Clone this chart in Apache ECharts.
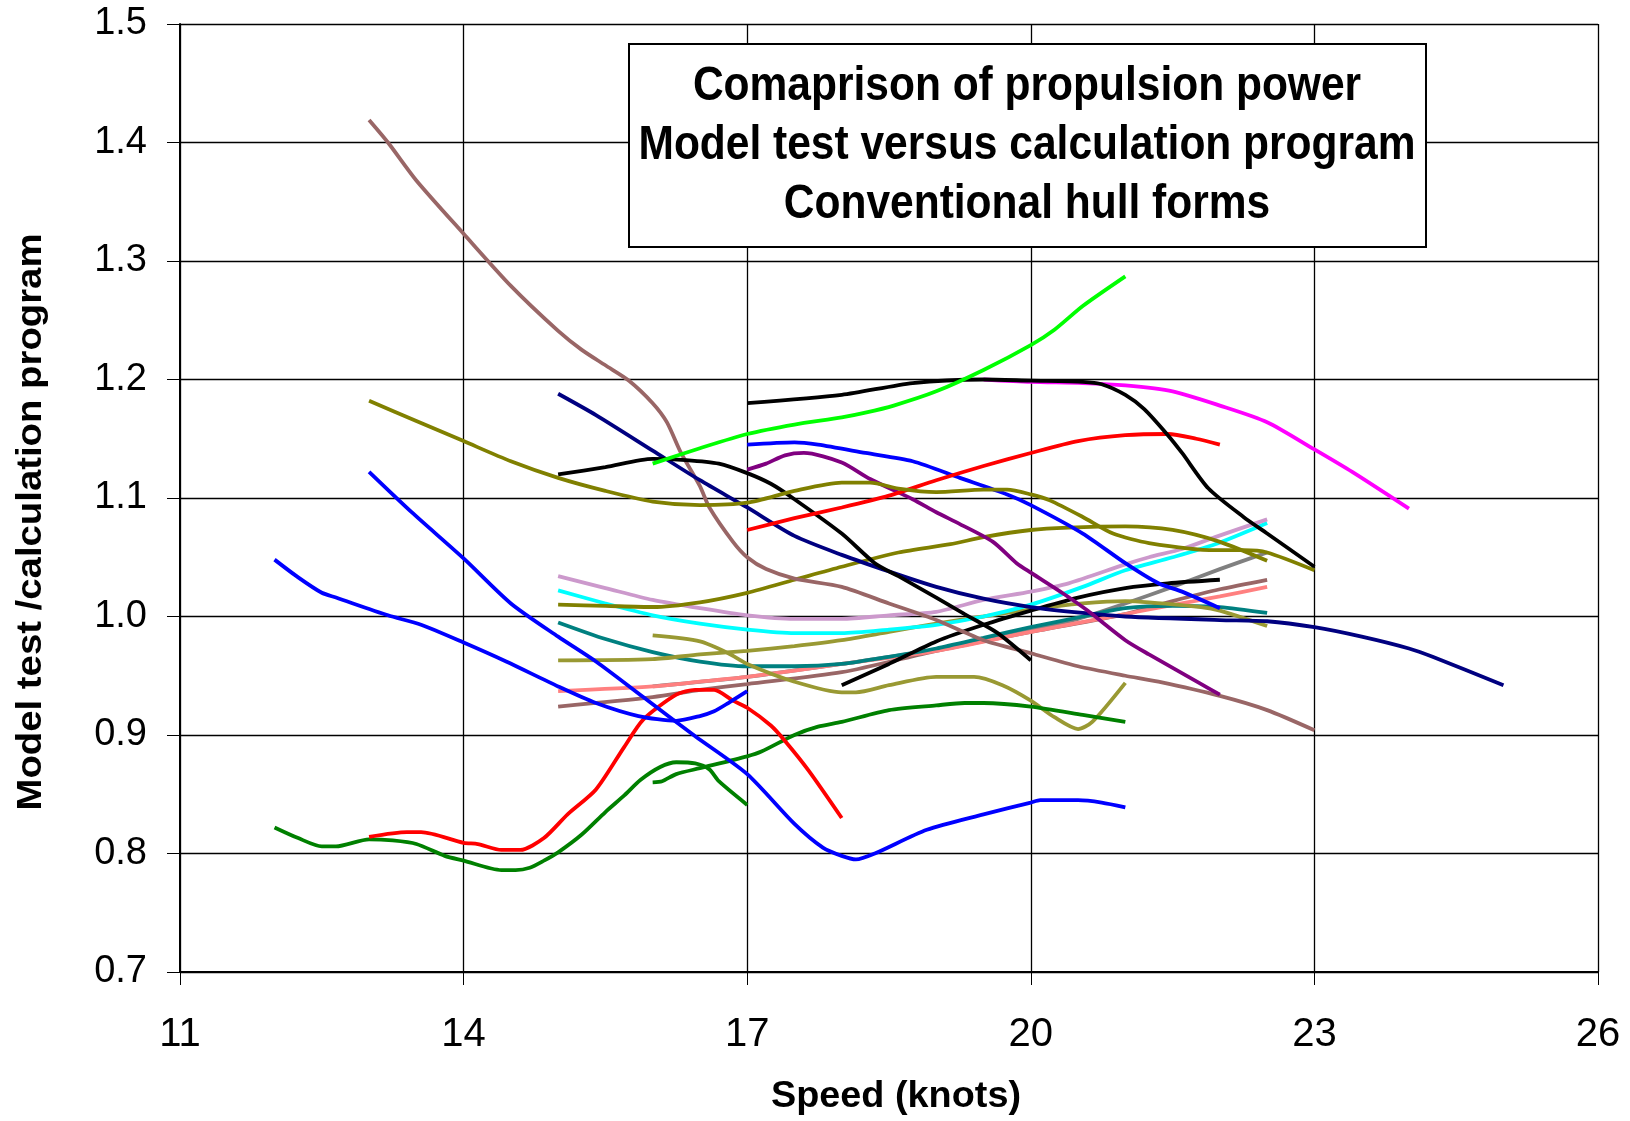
<!DOCTYPE html>
<html>
<head>
<meta charset="utf-8">
<script src="https://cdn.jsdelivr.net/npm/echarts@6/dist/echarts.min.js"></script>
<style>
html,body{margin:0;padding:0;background:#fff;}
#chart{width:1630px;height:1121px;}
</style>
</head>
<body>
<div id="chart"></div>
<script>
// ---- Data (speed in knots, ratio model test / calculation) ----
const xTicks = [11, 14, 17, 20, 23, 26];
const yTicks = [0.7, 0.8, 0.9, 1.0, 1.1, 1.2, 1.3, 1.4, 1.5];

const brownHigh = [[13,1.419],[13.2,1.40],[13.5,1.368],[14,1.323],[14.5,1.279],[15,1.241],[15.25,1.225],[15.5,1.212],[15.75,1.199],[16,1.18],[16.15,1.164],[16.3,1.138],[16.5,1.11],[16.6,1.092],[16.85,1.063],[17,1.05],[17.2,1.04],[17.5,1.032],[18,1.025],[18.5,1.011],[19,0.997],[19.5,0.98],[20,0.969],[20.5,0.958],[21,0.95],[21.35,0.945],[22,0.933],[22.5,0.921],[23,0.904]];
const oliveHigh = [[13,1.182],[13.5,1.165],[14,1.148],[14.5,1.131],[15,1.117],[15.5,1.106],[16,1.097],[16.5,1.094],[17,1.096],[17.5,1.106],[18,1.113],[18.3,1.113],[18.6,1.108],[19,1.105],[19.5,1.107],[19.75,1.107],[20,1.103],[20.2,1.098],[20.55,1.084],[20.87,1.07],[21.25,1.062],[21.95,1.056],[22.25,1.056],[22.5,1.054],[23,1.039]];
const oliveRising = [[15,1.01],[15.5,1.009],[16,1.008],[16.5,1.012],[17,1.02],[17.5,1.031],[18,1.042],[18.6,1.054],[19.15,1.061],[19.5,1.067],[20,1.073],[20.4,1.075],[21,1.076],[21.5,1.073],[22,1.063],[22.5,1.047]];
const navyLong = [[15,1.188],[15.4,1.17],[16,1.14],[16.5,1.115],[17,1.092],[17.5,1.068],[18,1.052],[18.5,1.038],[19,1.025],[19.5,1.015],[20,1.008],[20.55,1.003],[21,1.0],[22,0.997],[22.5,0.996],[23,0.991],[23.5,0.983],[24,0.973],[24.25,0.966],[25,0.942]];
const blackHump = [[15,1.12],[15.5,1.126],[16,1.133],[16.35,1.132],[16.7,1.129],[17,1.121],[17.25,1.112],[17.5,1.099],[18,1.07],[18.35,1.045],[18.6,1.034],[19,1.016],[19.3,1.002],[19.65,0.986],[20,0.963]];
const blackTop = [[17,1.18],[18,1.187],[18.75,1.197],[19.5,1.2],[20,1.199],[20.55,1.198],[20.75,1.196],[21,1.187],[21.2,1.175],[21.45,1.153],[21.6,1.138],[21.88,1.108],[22.25,1.084],[22.5,1.07],[23,1.042]];
const blackRising = [[18,0.942],[18.5,0.96],[19,0.979],[19.5,0.993],[20,1.005],[20.5,1.016],[21,1.024],[21.45,1.028],[22,1.031]];
const magentaLine = [[19.5,1.2],[20,1.198],[20.55,1.197],[21,1.195],[21.5,1.19],[22,1.178],[22.5,1.164],[23,1.141],[23.4,1.122],[24,1.091]];
const greenBright = [[16,1.129],[16.5,1.142],[17,1.154],[17.5,1.162],[18,1.168],[18.25,1.172],[18.55,1.178],[19,1.19],[19.5,1.208],[20,1.229],[20.25,1.242],[20.55,1.262],[21,1.287]];
const redHigh = [[17,1.073],[17.5,1.083],[18,1.092],[18.5,1.102],[19,1.115],[19.5,1.127],[20,1.138],[20.5,1.148],[21,1.153],[21.45,1.154],[21.75,1.15],[22,1.145]];
const blueHigh = [[17,1.145],[17.5,1.147],[17.75,1.145],[18.25,1.138],[18.75,1.131],[19.25,1.117],[19.75,1.103],[20,1.094],[20.55,1.07],[21,1.045],[21.35,1.028],[21.6,1.021],[22,1.007]];
const purpleLine = [[17,1.124],[17.2,1.129],[17.4,1.136],[17.6,1.138],[18,1.13],[18.3,1.116],[18.75,1.099],[19,1.088],[19.25,1.078],[19.6,1.063],[19.85,1.045],[20,1.037],[20.35,1.019],[20.6,1.005],[21,0.98],[21.25,0.968],[21.78,0.944],[22,0.934]];
const lilacLine = [[15,1.034],[15.5,1.024],[16,1.014],[16.5,1.007],[17,1.001],[17.5,0.998],[18,0.998],[18.5,1.001],[19,1.004],[19.5,1.014],[20,1.021],[20.4,1.028],[21,1.044],[21.25,1.05],[21.6,1.057],[21.95,1.067],[22.5,1.082]];
const cyanLine = [[15,1.022],[15.5,1.011],[16,1.001],[16.5,0.994],[17,0.989],[17.5,0.986],[18,0.986],[18.5,0.989],[19,0.993],[19.5,1.0],[20,1.01],[20.55,1.025],[21,1.039],[21.5,1.05],[21.95,1.061],[22.5,1.079]];
const tealLine = [[15,0.995],[15.5,0.981],[16,0.97],[16.5,0.962],[17,0.958],[17.5,0.958],[18,0.96],[18.5,0.966],[19,0.973],[19.5,0.982],[20,0.991],[20.55,1.0],[21,1.007],[21.5,1.009],[22,1.008],[22.5,1.003]];
const khakiRising = [[15,0.963],[16,0.964],[16.5,0.968],[17,0.971],[17.5,0.975],[18,0.98],[18.5,0.987],[19,0.994],[19.5,1.0],[20,1.006],[20.55,1.011],[21,1.013],[21.25,1.012],[21.8,1.008],[22,1.005],[22.5,0.992]];
const khakiDip = [[16,0.984],[16.5,0.979],[16.8,0.969],[17,0.96],[17.5,0.945],[18,0.936],[18.15,0.936],[18.5,0.942],[19,0.949],[19.4,0.949],[19.7,0.942],[20,0.929],[20.25,0.915],[20.5,0.905],[20.65,0.911],[21,0.944]];
const salmonLine = [[15,0.937],[16,0.941],[16.5,0.945],[17,0.949],[18,0.96],[19,0.971],[20,0.987],[21,1.002],[21.25,1.006],[22,1.017],[22.5,1.025]];
const grayLine = [[16,0.941],[17,0.949],[18,0.96],[19,0.972],[20,0.989],[20.5,0.998],[21,1.011],[21.5,1.025],[22,1.04],[22.5,1.054]];
const brownLow = [[15,0.924],[16,0.932],[16.5,0.938],[17,0.943],[18,0.953],[19,0.971],[20,0.987],[21,1.002],[21.5,1.013],[22,1.023],[22.5,1.031]];
const blueDeep = [[13,1.122],[13.45,1.088],[14,1.049],[14.5,1.011],[15,0.983],[15.4,0.962],[15.9,0.932],[16.45,0.899],[17,0.867],[17.5,0.825],[17.8,0.805],[18,0.798],[18.15,0.795],[18.35,0.8],[18.9,0.82],[19.5,0.833],[20,0.843],[20.1,0.845],[20.5,0.845],[20.75,0.843],[21,0.839]];
const blueLow = [[12,1.048],[12.25,1.033],[12.5,1.02],[12.65,1.016],[13.2,1.001],[13.55,0.993],[14,0.978],[14.45,0.962],[15,0.941],[15.4,0.927],[15.85,0.916],[16.25,0.912],[16.5,0.916],[16.65,0.92],[16.8,0.927],[17,0.937]];
const redLow = [[13,0.814],[13.4,0.818],[13.55,0.818],[14,0.809],[14.15,0.808],[14.4,0.803],[14.6,0.803],[14.85,0.813],[15.1,0.833],[15.4,0.854],[15.7,0.89],[15.9,0.913],[16.25,0.934],[16.45,0.938],[16.65,0.938],[16.85,0.929],[17,0.923],[17.25,0.908],[17.4,0.895],[17.65,0.87],[18,0.83]];
const greenDarkA = [[12,0.822],[12.25,0.813],[12.5,0.806],[12.65,0.806],[13,0.812],[13.25,0.811],[13.5,0.808],[13.8,0.798],[14,0.794],[14.4,0.786],[14.55,0.786],[14.7,0.788],[14.85,0.794],[15,0.801],[15.25,0.816],[15.5,0.835],[15.7,0.849],[15.87,0.862],[16.08,0.873],[16.25,0.877],[16.45,0.876],[16.6,0.871],[16.7,0.861],[17,0.841]];
const greenDarkB = [[16,0.86],[16.1,0.861],[16.25,0.867],[16.5,0.872],[17,0.882],[17.15,0.886],[17.5,0.9],[17.75,0.907],[18,0.911],[18.5,0.921],[19,0.925],[19.3,0.927],[19.5,0.927],[20,0.924],[20.55,0.917],[21,0.911]];

const titleLines = ['Comaprison of propulsion power', 'Model test versus calculation program', 'Conventional hull forms'];
const xAxisTitle = 'Speed (knots)';
const yAxisTitle = 'Model test /calculation program';

const seriesDefs = [
  ['brownLow', brownLow, '#996666'],
  ['grayLine', grayLine, '#808080'],
  ['salmonLine', salmonLine, '#FF8080'],
  ['tealLine', tealLine, '#008080'],
  ['khakiRising', khakiRising, '#999933'],
  ['blackRising', blackRising, '#000000'],
  ['khakiDip', khakiDip, '#999933'],
  ['cyanLine', cyanLine, '#00FFFF'],
  ['lilacLine', lilacLine, '#CC99CC'],
  ['oliveRising', oliveRising, '#808000'],
  ['greenDarkB', greenDarkB, '#008000'],
  ['greenDarkA', greenDarkA, '#008000'],
  ['redLow', redLow, '#FF0000'],
  ['blueLow', blueLow, '#0000FF'],
  ['blueDeep', blueDeep, '#0000FF'],
  ['brownHigh', brownHigh, '#996666'],
  ['navyLong', navyLong, '#000080'],
  ['blackHump', blackHump, '#000000'],
  ['purpleLine', purpleLine, '#800080'],
  ['blueHigh', blueHigh, '#0000FF'],
  ['redHigh', redHigh, '#FF0000'],
  ['oliveHigh', oliveHigh, '#808000'],
  ['magentaLine', magentaLine, '#FF00FF'],
  ['blackTop', blackTop, '#000000'],
  ['greenBright', greenBright, '#00FF00']
];

const sans = "'Liberation Sans', Arial, sans-serif";
const measureCtx = document.createElement('canvas').getContext('2d');
function fitScale(text, font, target) {
  measureCtx.font = font;
  return target / measureCtx.measureText(text).width;
}
const titleFont = "bold 48px " + sans;
const titleScale = fitScale(titleLines[1], titleFont, 777);
const xNameFont = "bold 37px " + sans;
const xNameScale = fitScale(xAxisTitle, xNameFont, 250);
const yNameFont = "bold 35px " + sans;
const yNameScale = fitScale(yAxisTitle, yNameFont, 577);

const chart = echarts.init(document.getElementById('chart'), null, {renderer: 'canvas'});
chart.setOption({
  animation: false,
  backgroundColor: '#ffffff',
  grid: {left: 180, right: 32, top: 24, bottom: 149, containLabel: false},
  xAxis: {
    type: 'value', min: xTicks[0], max: xTicks[xTicks.length - 1], interval: 3,
    axisLine: {show: true, lineStyle: {color: '#000', width: 2}},
    axisTick: {show: true, length: 13, lineStyle: {color: '#000', width: 1}},
    axisLabel: {margin: 43, fontFamily: sans, fontSize: 40, color: '#000'},
    splitLine: {show: true, lineStyle: {color: '#000', width: 1.3}}
  },
  yAxis: {
    type: 'value', min: yTicks[0], max: yTicks[yTicks.length - 1], interval: 0.1,
    axisLine: {show: true, lineStyle: {color: '#000', width: 2}},
    axisTick: {show: true, length: 13, lineStyle: {color: '#000', width: 1}},
    axisLabel: {margin: 33, fontFamily: sans, fontSize: 38, color: '#000',
      formatter: v => v.toFixed(1)},
    splitLine: {show: true, lineStyle: {color: '#000', width: 1.3}}
  },
  graphic: [
    {type: 'rect', left: 628, top: 43, z: 100,
     shape: {width: 797, height: 203},
     style: {fill: '#fff', stroke: '#000', lineWidth: 2}},
    {type: 'text', x: 1027, y: 87, scaleX: titleScale, z: 101,
     style: {text: titleLines[0], fill: '#000', font: titleFont, align: 'center', verticalAlign: 'middle'}},
    {type: 'text', x: 1027, y: 146, scaleX: titleScale, z: 101,
     style: {text: titleLines[1], fill: '#000', font: titleFont, align: 'center', verticalAlign: 'middle'}},
    {type: 'text', x: 1027, y: 205, scaleX: titleScale, z: 101,
     style: {text: titleLines[2], fill: '#000', font: titleFont, align: 'center', verticalAlign: 'middle'}},
    {type: 'text', x: 896, y: 1097, scaleX: xNameScale, z: 101,
     style: {text: xAxisTitle, fill: '#000', font: xNameFont, align: 'center', verticalAlign: 'middle'}},
    {type: 'text', x: 31, y: 522, scaleX: yNameScale, rotation: Math.PI / 2, z: 101,
     style: {text: yAxisTitle, fill: '#000', font: yNameFont, align: 'center', verticalAlign: 'middle'}}
  ],
  series: seriesDefs.map(([name, data, color]) => ({
    name: name, type: 'line', data: data, showSymbol: false, symbol: 'none',
    smooth: 0.25, lineStyle: {color: color, width: 3.8}, itemStyle: {color: color}
  }))
});
</script>
</body>
</html>
